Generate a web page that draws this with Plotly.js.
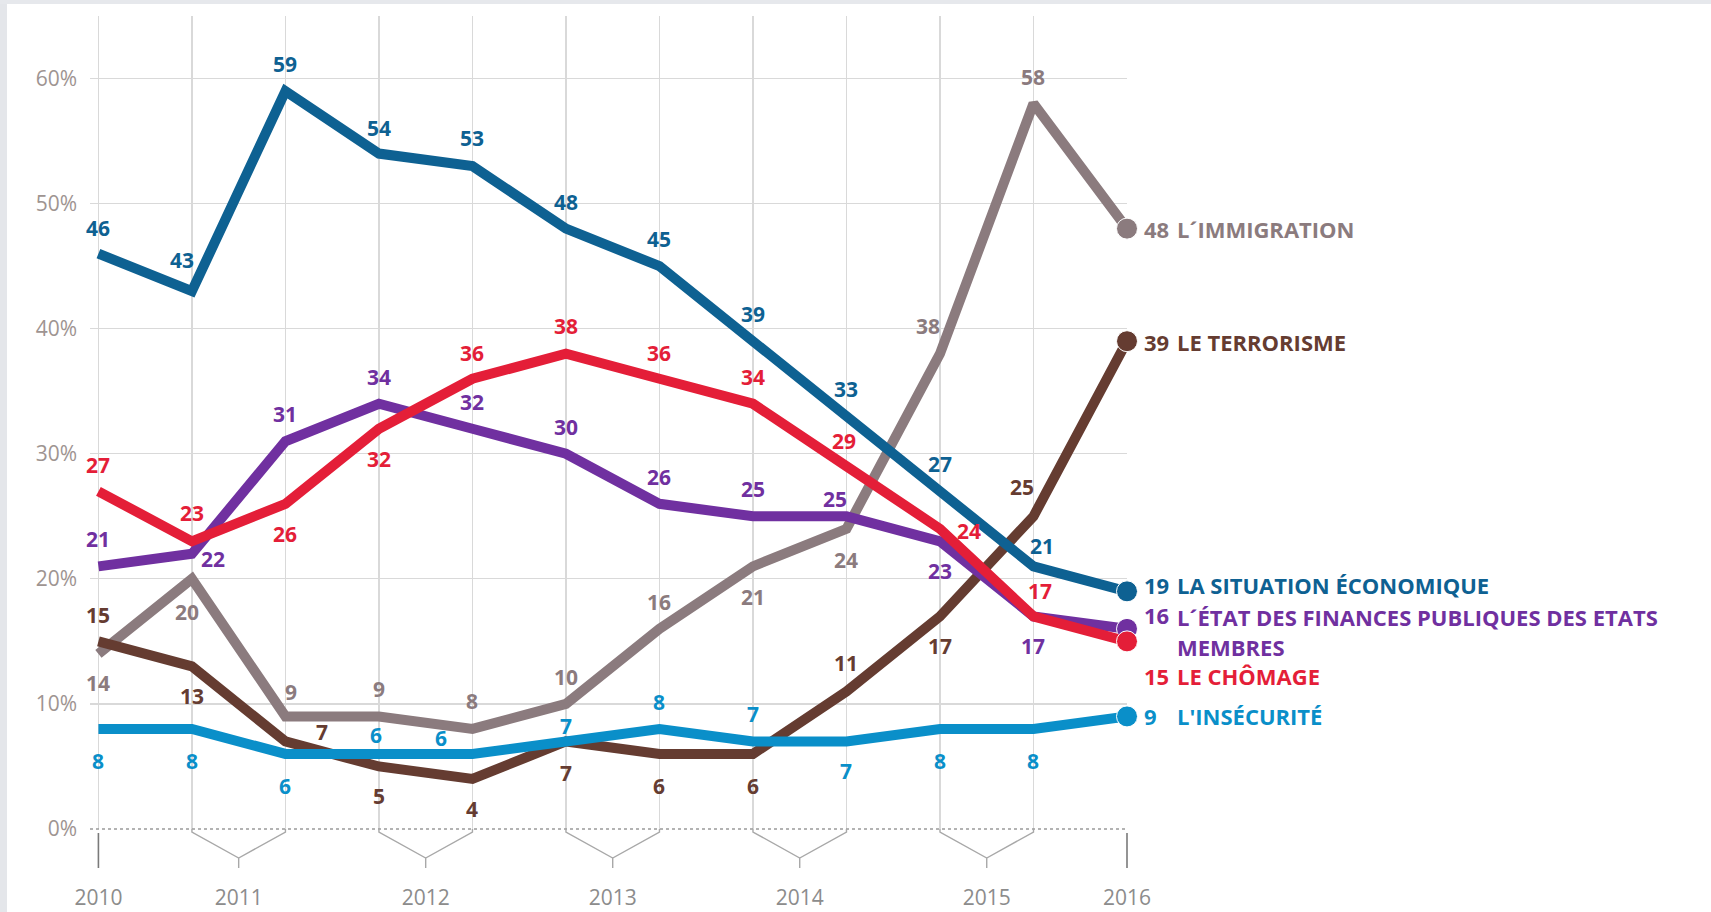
<!DOCTYPE html>
<html>
<head>
<meta charset="utf-8">
<script src="https://cdn.plot.ly/plotly-3.0.1.min.js"></script>
<style>html,body{margin:0;padding:0;background:#fff;}#chart{width:1711px;height:912px;}</style>
</head>
<body>
<div id="chart"></div>
<script>
// ---- data ----
const periods = ['2010', '2011-1', '2011-2', '2012-1', '2012-2', '2013-1', '2013-2', '2014-1', '2014-2', '2015-1', '2015-2', '2016'];
const yearLabels = ['2010', '2011', '2012', '2013', '2014', '2015', '2016'];
const yTickVals = [0, 10, 20, 30, 40, 50, 60];
const yTickText = ['0%', '10%', '20%', '30%', '40%', '50%', '60%'];

const seriesNames = ['L´IMMIGRATION', 'LE TERRORISME', "L'INSÉCURITÉ", 'L´ÉTAT DES FINANCES PUBLIQUES DES ETATS', 'LE CHÔMAGE', 'LA SITUATION ÉCONOMIQUE'];
const immigration = [14, 20, 9, 9, 8, 10, 16, 21, 24, 38, 58, 48];
const terrorisme  = [15, 13, 7, 5, 4, 7, 6, 6, 11, 17, 25, 39];
const insecurite  = [8, 8, 6, 6, 6, 7, 8, 7, 7, 8, 8, 9];
const finances    = [21, 22, 31, 34, 32, 30, 26, 25, 25, 23, 17, 16];
const chomage     = [27, 23, 26, 32, 36, 38, 36, 34, 29, 24, 17, 15];
const economie    = [46, 43, 59, 54, 53, 48, 45, 39, 33, 27, 21, 19];

// ---- styling ----
const FONT = '"Open Sans", "Noto Sans", sans-serif';
const colors = ['#8b7b7e', '#653c31', '#0a8fc9', '#7030a0', '#e41e38', '#0e6192'];
// label pixel offsets [dx, dy] (dy positive = down)
const A = [0, -27], B = [0, 31];
const labelOffsets = [
  [[0, 29], [-5, 33], [6, -24], A, [0, -28], A, A, B, B, [-12, -28], A],          // immigration
  [[0, -26], [0, 30], [37, -9], [0, 30], [0, 30], [0, 32], [0, 32], [0, 32], [0, -28], [0, 30], [-11, -29]], // terrorisme
  [[0, 32], [0, 32], [0, 32], [-3, -19], [-31, -16], [0, -15], A, A, [0, 30], [0, 32], [0, 32]], // insecurite
  [A, [21, 5], A, A, A, A, A, A, [-11, -17], [0, 30], [0, 30]],                    // finances
  [[0, -26], [0, -28], [0, 30], [0, 30], [0, -26], [0, -28], [0, -26], A, [-2, -25], [29, 2], [7, -25]], // chomage
  [[0, -26], [-10, -31], A, [0, -26], [0, -28], A, A, A, A, A, [9, -20]]           // economie
];
const endOffsets = [0, 1, 0, -14, 35, -6];

const allSeries = [immigration, terrorisme, insecurite, finances, chomage, economie];

const W = 1711, H = 912;
const M = {l: 90, r: 584, t: 16, b: 83};
const idx = periods.map((p, i) => i);
const xRange = [-0.09, periods.length - 1];
const yRange = [0, 65];

const traces = allSeries.map((vals, k) => ({
  type: 'scatter',
  mode: 'lines+markers',
  x: idx,
  y: vals,
  name: seriesNames[k],
  line: {color: colors[k], width: 10},
  marker: {color: colors[k], opacity: 1, size: vals.map((v, i) => i === vals.length - 1 ? 21 : 0)},
  cliponaxis: false,
  hoverinfo: 'skip',
  showlegend: false
}));

const labelFont = (c, s) => ({family: FONT, size: s, color: c, weight: 'bold'});
const annotations = [];
allSeries.forEach((vals, k) => {
  vals.forEach((v, i) => {
    if (i === vals.length - 1) return;
    const off = labelOffsets[k][i];
    annotations.push({
      x: idx[i], y: v, xref: 'x', yref: 'y',
      text: String(v), showarrow: false,
      xanchor: 'center', yanchor: 'middle',
      xshift: off[0], yshift: -off[1],
      font: labelFont(colors[k], 21)
    });
  });
  const last = vals.length - 1;
  annotations.push({
    x: idx[last], y: vals[last], xref: 'x', yref: 'y',
    text: String(vals[last]), showarrow: false,
    xanchor: 'left', yanchor: 'middle', xshift: 15, yshift: -endOffsets[k],
    font: labelFont(colors[k], 22)
  });
  annotations.push({
    x: idx[last], y: vals[last], xref: 'x', yref: 'y',
    text: seriesNames[k], showarrow: false,
    xanchor: 'left', yanchor: 'middle', xshift: 48, yshift: -(endOffsets[k] + (k === 3 ? 2 : 0)),
    font: labelFont(colors[k], 22)
  });
  if (k === 3) {
    annotations.push({
      x: idx[last], y: vals[last], xref: 'x', yref: 'y',
      text: 'MEMBRES', showarrow: false,
      xanchor: 'left', yanchor: 'middle', xshift: 48, yshift: -(endOffsets[k] + 32),
      font: labelFont(colors[k], 22)
    });
  }
});

// year tick positions: centre of each year's surveys
const yearPos = yearLabels.map(y => {
  const ids = periods.map((p, i) => p.startsWith(y) ? i : -1).filter(i => i >= 0);
  return ids.reduce((a, b) => a + b, 0) / ids.length;
});

// decorations below the axis (paper coordinates)
const plotW = W - M.l - M.r, plotH = H - M.t - M.b;
const px = i => (i - xRange[0]) / (xRange[1] - xRange[0]);
const py = d => -d / plotH;  // d pixels below plot bottom
const shapes = [];
shapes.push({type: 'line', xref: 'paper', yref: 'paper', x0: 0, x1: 1, y0: 0, y1: 0,
  line: {color: '#9a9a9a', width: 1.3, dash: 'dot'}});
[0, periods.length - 1].forEach(i => {
  shapes.push({type: 'line', xref: 'paper', yref: 'paper', x0: px(i), x1: px(i), y0: py(4), y1: py(39),
    line: {color: '#7a7a7a', width: 1.6}});
});
yearPos.forEach(p => {
  if (Number.isInteger(p)) return;
  const a = p - 0.5, b = p + 0.5;
  shapes.push({type: 'path', xref: 'paper', yref: 'paper',
    path: `M ${px(a)},0 L ${px(a)},${py(3)} L ${px(p)},${py(29)} L ${px(b)},${py(3)} L ${px(b)},0 M ${px(p)},${py(29)} L ${px(p)},${py(39)}`,
    line: {color: '#a8a8a8', width: 1.4}});
});
shapes.push({type: 'rect', xref: 'paper', yref: 'paper', layer: 'below',
  x0: -M.l / plotW, x1: (-M.l + 7) / plotW, y0: -M.b / plotH, y1: 1 + M.t / plotH,
  fillcolor: '#e4e6ea', line: {width: 0}});
shapes.push({type: 'rect', xref: 'paper', yref: 'paper', layer: 'below',
  x0: -M.l / plotW, x1: 1 + M.r / plotW, y0: 1 + (M.t - 4) / plotH, y1: 1 + M.t / plotH,
  fillcolor: '#e6e8ec', line: {width: 0}});

const layout = {
  width: W, height: H,
  margin: M,
  paper_bgcolor: '#ffffff', plot_bgcolor: '#ffffff',
  font: {family: FONT},
  showlegend: false,
  xaxis: {
    type: 'linear', range: xRange,
    tickmode: 'array', tickvals: yearPos, ticktext: yearLabels,
    showgrid: false, zeroline: false, showline: false,
    ticks: 'outside', ticklen: 0, tickcolor: 'rgba(0,0,0,0)',
    ticklabelstandoff: 50,
    tickfont: {family: FONT, size: 21, color: '#8c8c8c'},
    minor: {tickmode: 'array', tickvals: idx, showgrid: true, gridcolor: '#d9d9d9', gridwidth: 1.3,
            ticks: 'inside', ticklen: 0, tickcolor: 'rgba(0,0,0,0)'},
    fixedrange: true
  },
  yaxis: {
    range: yRange, tickmode: 'array', tickvals: yTickVals, ticktext: yTickText,
    showgrid: true, gridcolor: '#d9d9d9', gridwidth: 1.3,
    zeroline: false, showline: false, ticks: '',
    ticklabelstandoff: 12,
    tickfont: {family: FONT, size: 21, color: '#9e9491'}
  },
  annotations: annotations,
  shapes: shapes
};

Plotly.newPlot('chart', traces, layout, {staticPlot: true, displayModeBar: false});
</script>
</body>
</html>
